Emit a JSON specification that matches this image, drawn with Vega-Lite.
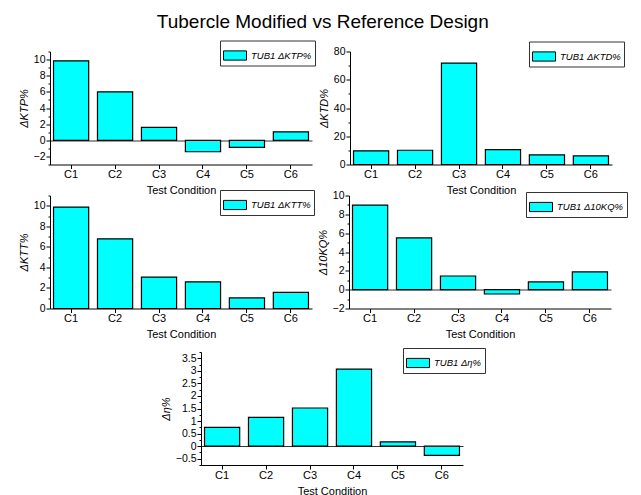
{
  "$schema": "https://vega.github.io/schema/vega-lite/v6.json",
  "padding": {"left": 18, "top": 12.5, "right": 5, "bottom": 0},
  "title": {"text": "Tubercle Modified vs Reference Design", "fontSize": 19, "fontWeight": "normal", "font": "Liberation Sans", "color": "black", "anchor": "middle", "offset": 8.5},
  "config": {
    "font": "Liberation Sans",
    "view": {"stroke": null},
    "axis": {"domainColor": "black", "tickColor": "black", "labelColor": "black", "titleColor": "black", "titleFontWeight": "normal", "grid": false, "labelFont": "Liberation Sans", "titleFont": "Liberation Sans"},
    "axisY": {"labelOverlap": false, "labelFlush": false, "labelPadding": 1, "titlePadding": 4, "labelFontSize": 10.5, "titleFontSize": 11, "titleFontStyle": "italic", "grid": true, "gridColor": "#333", "gridWidth": 1.2},
    "axisX": {"labelAngle": 0, "labelFontSize": 11, "titleFontSize": 11, "tickSize": 4, "labelPadding": 0, "titlePadding": 5},
    "legend": {"labelFont": "Liberation Sans", "orient": "none", "labelFontSize": 9.5, "labelFontStyle": "italic", "labelColor": "black", "strokeColor": "#333", "fillColor": "white", "padding": 3, "symbolType": "M-1,-0.4H1V0.4H-1Z", "symbolSize": 529, "symbolStrokeColor": "black", "symbolStrokeWidth": 1, "labelOffset": 4}
  },
  "datasets": {
    "bars": [
      {"panel": "KTP", "series": "TUB1 ΔKTP%", "cond": "C1", "value": 9.85},
      {"panel": "KTP", "series": "TUB1 ΔKTP%", "cond": "C2", "value": 6.0},
      {"panel": "KTP", "series": "TUB1 ΔKTP%", "cond": "C3", "value": 1.6},
      {"panel": "KTP", "series": "TUB1 ΔKTP%", "cond": "C4", "value": -1.42},
      {"panel": "KTP", "series": "TUB1 ΔKTP%", "cond": "C5", "value": -0.87},
      {"panel": "KTP", "series": "TUB1 ΔKTP%", "cond": "C6", "value": 1.05},
      {"panel": "KTD", "series": "TUB1 ΔKTD%", "cond": "C1", "value": 9.7},
      {"panel": "KTD", "series": "TUB1 ΔKTD%", "cond": "C2", "value": 10.1},
      {"panel": "KTD", "series": "TUB1 ΔKTD%", "cond": "C3", "value": 71.8},
      {"panel": "KTD", "series": "TUB1 ΔKTD%", "cond": "C4", "value": 10.6},
      {"panel": "KTD", "series": "TUB1 ΔKTD%", "cond": "C5", "value": 6.8},
      {"panel": "KTD", "series": "TUB1 ΔKTD%", "cond": "C6", "value": 6.1},
      {"panel": "KTT", "series": "TUB1 ΔKTT%", "cond": "C1", "value": 9.87},
      {"panel": "KTT", "series": "TUB1 ΔKTT%", "cond": "C2", "value": 6.78},
      {"panel": "KTT", "series": "TUB1 ΔKTT%", "cond": "C3", "value": 3.05},
      {"panel": "KTT", "series": "TUB1 ΔKTT%", "cond": "C4", "value": 2.6},
      {"panel": "KTT", "series": "TUB1 ΔKTT%", "cond": "C5", "value": 1.03},
      {"panel": "KTT", "series": "TUB1 ΔKTT%", "cond": "C6", "value": 1.56},
      {"panel": "KQ", "series": "TUB1 Δ10KQ%", "cond": "C1", "value": 8.98},
      {"panel": "KQ", "series": "TUB1 Δ10KQ%", "cond": "C2", "value": 5.5},
      {"panel": "KQ", "series": "TUB1 Δ10KQ%", "cond": "C3", "value": 1.45},
      {"panel": "KQ", "series": "TUB1 Δ10KQ%", "cond": "C4", "value": -0.46},
      {"panel": "KQ", "series": "TUB1 Δ10KQ%", "cond": "C5", "value": 0.82},
      {"panel": "KQ", "series": "TUB1 Δ10KQ%", "cond": "C6", "value": 1.88},
      {"panel": "ETA", "series": "TUB1 Δη%", "cond": "C1", "value": 0.75},
      {"panel": "ETA", "series": "TUB1 Δη%", "cond": "C2", "value": 1.15},
      {"panel": "ETA", "series": "TUB1 Δη%", "cond": "C3", "value": 1.52},
      {"panel": "ETA", "series": "TUB1 Δη%", "cond": "C4", "value": 3.07},
      {"panel": "ETA", "series": "TUB1 Δη%", "cond": "C5", "value": 0.17},
      {"panel": "ETA", "series": "TUB1 Δη%", "cond": "C6", "value": -0.37}
    ]
  },
  "data": {"name": "bars"},
  "spacing": 7.5,
  "resolve": {"scale": {"color": "independent"}, "legend": {"color": "independent"}},
  "vconcat": [
    {
      "spacing": -25.5,
      "resolve": {"scale": {"color": "independent"}, "legend": {"color": "independent"}},
      "vconcat": [
        {
          "spacing": 2,
          "resolve": {"scale": {"color": "independent"}, "legend": {"color": "independent"}},
          "hconcat": [
            {
              "width": 262, "height": 113,
              "transform": [{"filter": "datum.panel == 'KTP'"}],
              "mark": {"type": "bar", "stroke": "black", "strokeWidth": 1.2},
              "encoding": {
                "x": {"field": "cond", "type": "nominal", "scale": {"paddingInner": 0.2, "paddingOuter": 0.08}, "axis": {"title": "Test Condition"}},
                "y": {"field": "value", "type": "quantitative", "scale": {"domain": [-3, 11], "nice": false, "zero": false}, "axis": {"title": "ΔKTP%", "values": [-3,-2,-1,0,1,2,3,4,5,6,7,8,9,10,11], "labelExpr": "datum.value % 2 == 0 ? datum.label : ''", "tickSize": {"condition": {"test": "datum.value % 2 != 0", "value": 2}, "value": 4}, "gridOpacity": {"condition": {"test": "datum.value == 0", "value": 1}, "value": 0}}},
                "color": {"field": "series", "type": "nominal", "scale": {"range": ["#00FFFF"]}, "legend": {"legendX": 170, "legendY": -11, "title": null}}
              }
            },
            {
              "width": 262, "height": 113,
              "transform": [{"filter": "datum.panel == 'KTD'"}],
              "mark": {"type": "bar", "stroke": "black", "strokeWidth": 1.2},
              "encoding": {
                "x": {"field": "cond", "type": "nominal", "scale": {"paddingInner": 0.2, "paddingOuter": 0.08}, "axis": {"title": "Test Condition"}},
                "y": {"field": "value", "type": "quantitative", "scale": {"domain": [0, 80], "nice": false, "zero": false}, "axis": {"title": "ΔKTD%", "grid": false, "values": [0,10,20,30,40,50,60,70,80], "labelExpr": "datum.value % 20 == 0 ? datum.label : ''", "tickSize": {"condition": {"test": "datum.value % 20 != 0", "value": 2}, "value": 4}}},
                "color": {"field": "series", "type": "nominal", "scale": {"range": ["#00FFFF"]}, "legend": {"legendX": 179, "legendY": -10, "title": null}}
              }
            }
          ]
        },
        {
          "spacing": 2,
          "resolve": {"scale": {"color": "independent"}, "legend": {"color": "independent"}},
          "hconcat": [
            {
              "width": 262, "height": 113,
              "transform": [{"filter": "datum.panel == 'KTT'"}],
              "mark": {"type": "bar", "stroke": "black", "strokeWidth": 1.2},
              "encoding": {
                "x": {"field": "cond", "type": "nominal", "scale": {"paddingInner": 0.2, "paddingOuter": 0.08}, "axis": {"title": "Test Condition"}},
                "y": {"field": "value", "type": "quantitative", "scale": {"domain": [0, 11], "nice": false, "zero": false}, "axis": {"title": "ΔKTT%", "grid": false, "values": [0,1,2,3,4,5,6,7,8,9,10,11], "labelExpr": "datum.value % 2 == 0 ? datum.label : ''", "tickSize": {"condition": {"test": "datum.value % 2 != 0", "value": 2}, "value": 4}}},
                "color": {"field": "series", "type": "nominal", "scale": {"range": ["#00FFFF"]}, "legend": {"legendX": 170, "legendY": -5.5, "title": null}}
              }
            },
            {
              "width": 262, "height": 113,
              "transform": [{"filter": "datum.panel == 'KQ'"}],
              "mark": {"type": "bar", "stroke": "black", "strokeWidth": 1.2},
              "encoding": {
                "x": {"field": "cond", "type": "nominal", "scale": {"paddingInner": 0.2, "paddingOuter": 0.08}, "axis": {"title": "Test Condition"}},
                "y": {"field": "value", "type": "quantitative", "scale": {"domain": [-2, 10], "nice": false, "zero": false}, "axis": {"title": "Δ10KQ%", "values": [-2,-1,0,1,2,3,4,5,6,7,8,9,10], "labelExpr": "datum.value % 2 == 0 ? datum.label : ''", "tickSize": {"condition": {"test": "datum.value % 2 != 0", "value": 2}, "value": 4}, "gridOpacity": {"condition": {"test": "datum.value == 0", "value": 1}, "value": 0}}},
                "color": {"field": "series", "type": "nominal", "scale": {"range": ["#00FFFF"]}, "legend": {"legendX": 177, "legendY": -3.5, "title": null}}
              }
            }
          ]
        }
      ]
    },
    {
      "spacing": 0,
      "resolve": {"scale": {"color": "independent"}, "legend": {"color": "independent"}},
      "hconcat": [
        {
          "width": 110, "height": 113,
          "transform": [{"filter": "datum.panel == 'NONE'"}],
          "mark": {"type": "point", "opacity": 0},
          "encoding": {}
        },
        {
          "width": 262, "height": 113,
          "transform": [{"filter": "datum.panel == 'ETA'"}],
          "mark": {"type": "bar", "stroke": "black", "strokeWidth": 1.2},
          "encoding": {
            "x": {"field": "cond", "type": "nominal", "scale": {"paddingInner": 0.2, "paddingOuter": 0.08}, "axis": {"title": "Test Condition"}},
            "y": {"field": "value", "type": "quantitative", "scale": {"domain": [-0.75, 3.75], "nice": false, "zero": false}, "axis": {"title": "Δη%", "values": [-0.75,-0.5,-0.25,0,0.25,0.5,0.75,1,1.25,1.5,1.75,2,2.25,2.5,2.75,3,3.25,3.5,3.75], "format": "~g", "labelExpr": "datum.value % 0.5 == 0 ? datum.label : ''", "tickSize": {"condition": {"test": "datum.value % 0.5 != 0", "value": 2}, "value": 4}, "gridOpacity": {"condition": {"test": "datum.value == 0", "value": 1}, "value": 0}}},
            "color": {"field": "series", "type": "nominal", "scale": {"range": ["#00FFFF"]}, "legend": {"legendX": 202, "legendY": -4, "title": null}}
          }
        }
      ]
    }
  ]
}
